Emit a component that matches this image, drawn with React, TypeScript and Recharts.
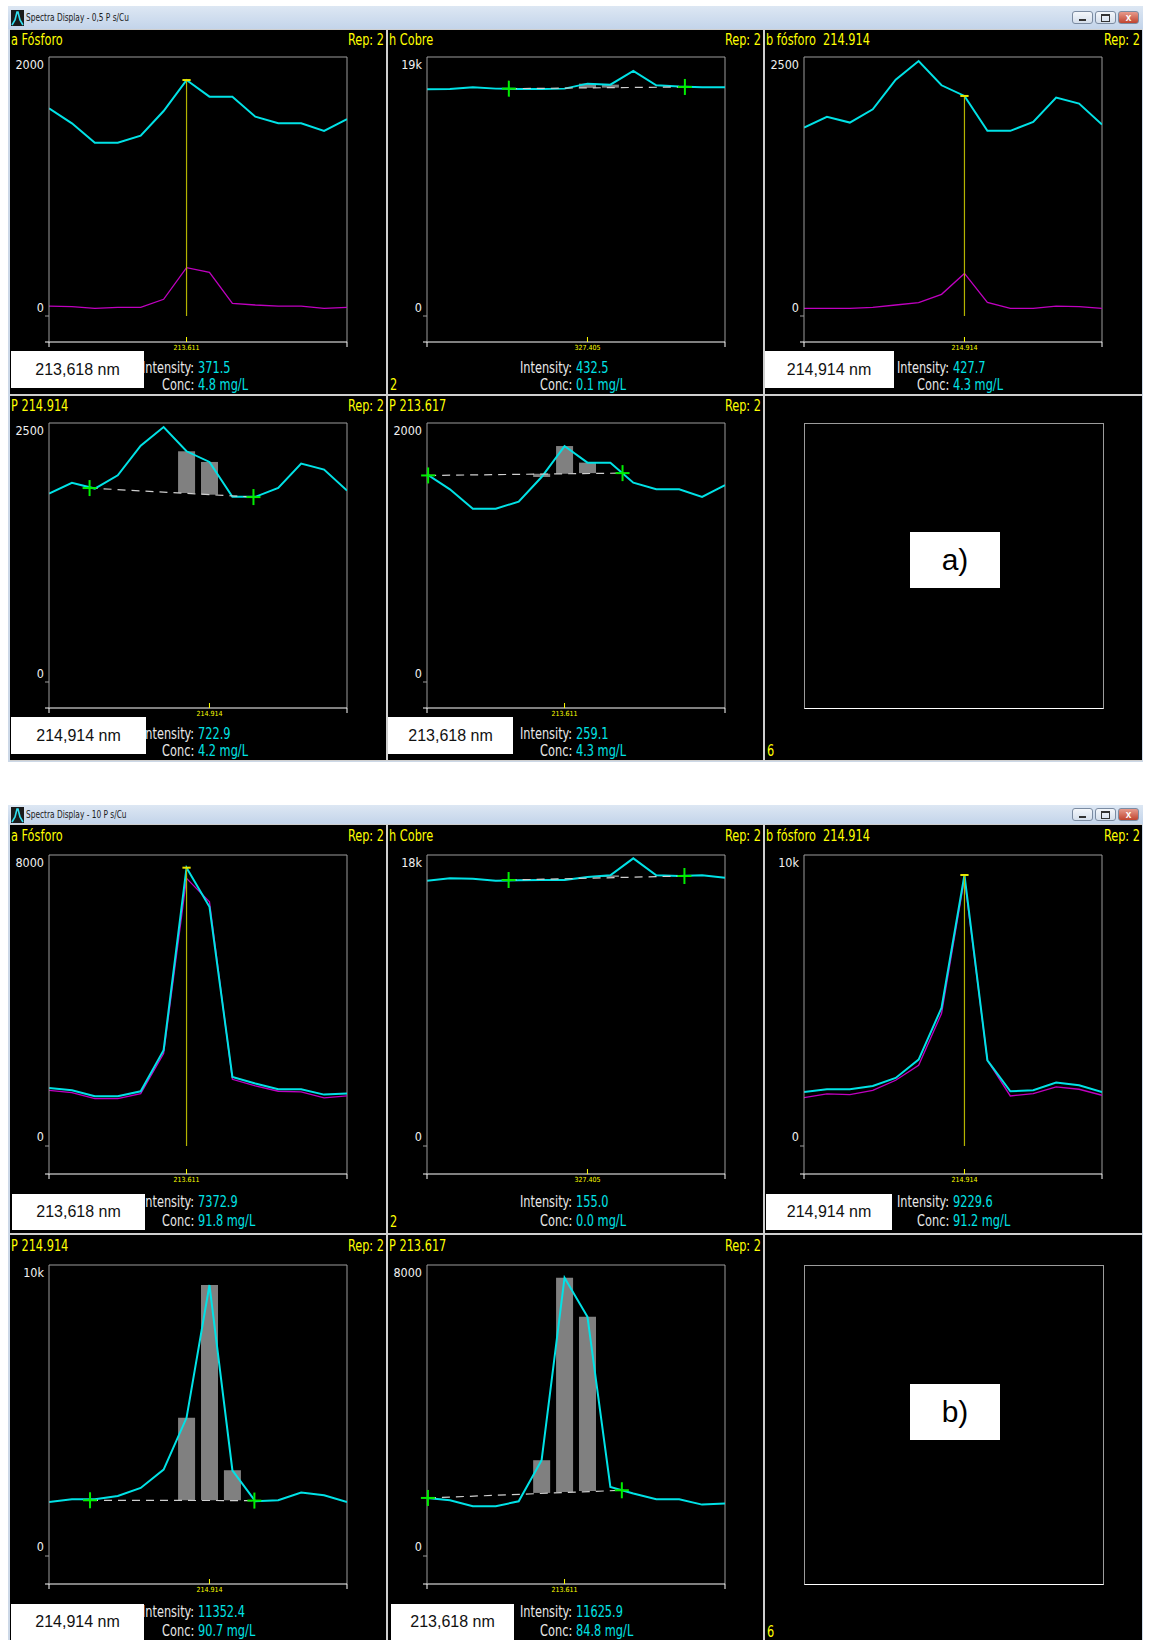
import React from 'react';
import { ComposedChart, Line, Bar, XAxis, YAxis, ReferenceLine, ReferenceDot } from 'recharts';

const NARROW = "'Liberation Sans Narrow', 'Arial Narrow', 'DejaVu Sans Condensed', 'Liberation Sans', sans-serif";
const SANS = "'Liberation Sans', Arial, sans-serif";

const YELLOW = '#ffff00';
const CYAN = '#00e2e6';
const MAGENTA = '#c000c0';
const MARK = '#b4b400';
const GREEN = '#00ee00';
const BOXGRAY = '#9c9c9c';
const SQUEEZE = 0.84;

// 14 read-out points per spectrum
const pointIndex = [0, 1, 2, 3, 4, 5, 6, 7, 8, 9, 10, 11, 12, 13];

// a) 0,5 P s/Cu
const fosforoA_05 = [1604, 1488, 1338, 1338, 1393, 1583, 1822, 1694, 1694, 1539, 1488, 1488, 1429, 1521];
const fosforoA_05ref = [77, 72, 59, 67, 67, 129, 373, 337, 98, 85, 77, 77, 59, 67];
const cobre_05 = [16631, 16656, 16778, 16680, 16656, 16656, 16680, 17046, 16973, 17974, 16924, 16827, 16778, 16778];
const fosforoB_05 = [1819, 1922, 1867, 1995, 2281, 2461, 2227, 2124, 1787, 1787, 1873, 2108, 2050, 1848];
const fosforoB_05ref = [74, 74, 74, 84, 106, 129, 209, 411, 132, 74, 74, 96, 90, 74];

// b) 10 P s/Cu
const fosforoA_10 = [1596, 1532, 1367, 1367, 1505, 2633, 7651, 6578, 1899, 1716, 1560, 1560, 1413, 1440];
const fosforoA_10ref = [1532, 1468, 1303, 1303, 1440, 2541, 7358, 6716, 1835, 1651, 1505, 1486, 1321, 1376];
const cobre_10 = [16411, 16555, 16534, 16411, 16431, 16452, 16452, 16638, 16741, 17794, 16741, 16700, 16741, 16596];
const fosforoB_10 = [1858, 1950, 1950, 2064, 2339, 2970, 4748, 9312, 2947, 1881, 1915, 2179, 2087, 1858];
const fosforoB_10ref = [1663, 1789, 1766, 1915, 2259, 2775, 4553, 9197, 2947, 1720, 1800, 2030, 1950, 1743];

// integration bars: [index, base, top]
const cobreBars_05 = [[7, 16734, 17046], [8, 16750, 16973]];
const p214Bars_05 = [[6, 1824, 2227], [7, 1808, 2124]];
const p213Bars_05 = [[5, 1583, 1608], [6, 1608, 1822], [7, 1613, 1694]];
const cobreBars_10 = [[8, 16640, 16741]];
const p214Bars_10 = [[6, 1915, 4748], [7, 1915, 9312], [8, 1915, 2947]];
const p213Bars_10 = [[5, 1734, 2633], [6, 1761, 7651], [7, 1789, 6578]];

// background correction points: [position, intensity]
const cobreMarks_05 = [[3.57, 16680], [11.25, 16802]];
const p214Marks_05 = [[1.77, 1872], [8.92, 1785]];
const p213Marks_05 = [[0.05, 1595], [8.53, 1613]];
const cobreMarks_10 = [[3.56, 16452], [11.23, 16700]];
const p214Marks_10 = [[1.79, 1915], [8.96, 1904]];
const p213Marks_10 = [[0.04, 1596], [8.5, 1807]];

type Spec = {
  title: string;
  yTop?: number;
  yLabel?: string;
  main?: number[];
  ref?: number[];
  bars?: number[][];
  marks?: number[][];
  peak?: number;
  tickAt?: number;
  tickText?: string;
  nm?: string;
  nmLeft?: number;
  nmWidth?: number;
  intensity?: string;
  conc?: string;
  corner?: string;
  letter?: string;
};

type Geo = {
  rows: number[];
  rowH: number;
  boxTop: number;
  boxH: number;
  zeroOff: number;
  zeroDy: number;
  nmTop: number;
  nmH: number;
  intY: number;
  concY: number;
  headY: number;
  cornerY: number;
  letterTop: number;
};

const geoA: Geo = { rows: [30, 396], rowH: 364, boxTop: 27, boxH: 285, zeroOff: 259, zeroDy: -4, nmTop: 321, nmH: 37, intY: 338, concY: 355, headY: 10, cornerY: 355, letterTop: 136 };
const geoB: Geo = { rows: [825, 1235], rowH: 408, boxTop: 30, boxH: 319, zeroOff: 291, zeroDy: -5, nmTop: 369, nmH: 36, intY: 377, concY: 396, headY: 11, cornerY: 397, letterTop: 149 };

const COLS = [{ left: 10, width: 376 }, { left: 388, width: 375 }, { left: 765, width: 377 }];
const BOX_LEFT = 39;
const BOX_W = 298;

const panelsA: Spec[] = [
  { title: 'a Fósforo', yTop: 2000, yLabel: '2000', main: fosforoA_05, ref: fosforoA_05ref, peak: 6, tickAt: 6, tickText: '213.611', nm: '213,618 nm', nmLeft: 1, nmWidth: 133, intensity: '371.5', conc: '4.8 mg/L' },
  { title: 'h Cobre', yTop: 19000, yLabel: '19k', main: cobre_05, bars: cobreBars_05, marks: cobreMarks_05, tickAt: 7, tickText: '327.405', intensity: '432.5', conc: '0.1 mg/L', corner: '2' },
  { title: 'b fósforo  214.914', yTop: 2500, yLabel: '2500', main: fosforoB_05, ref: fosforoB_05ref, peak: 7, tickAt: 7, tickText: '214.914', nm: '214,914 nm', nmLeft: -1, nmWidth: 130, intensity: '427.7', conc: '4.3 mg/L' },
  { title: 'P 214.914', yTop: 2500, yLabel: '2500', main: fosforoB_05, bars: p214Bars_05, marks: p214Marks_05, tickAt: 7, tickText: '214.914', nm: '214,914 nm', nmLeft: 1, nmWidth: 135, intensity: '722.9', conc: '4.2 mg/L' },
  { title: 'P 213.617', yTop: 2000, yLabel: '2000', main: fosforoA_05, bars: p213Bars_05, marks: p213Marks_05, tickAt: 6, tickText: '213.611', nm: '213,618 nm', nmLeft: 0, nmWidth: 125, intensity: '259.1', conc: '4.3 mg/L' },
  { title: '', letter: 'a)', corner: '6' },
];

const panelsB: Spec[] = [
  { title: 'a Fósforo', yTop: 8000, yLabel: '8000', main: fosforoA_10, ref: fosforoA_10ref, peak: 6, tickAt: 6, tickText: '213.611', nm: '213,618 nm', nmLeft: 2, nmWidth: 133, intensity: '7372.9', conc: '91.8 mg/L' },
  { title: 'h Cobre', yTop: 18000, yLabel: '18k', main: cobre_10, bars: cobreBars_10, marks: cobreMarks_10, tickAt: 7, tickText: '327.405', intensity: '155.0', conc: '0.0 mg/L', corner: '2' },
  { title: 'b fósforo  214.914', yTop: 10000, yLabel: '10k', main: fosforoB_10, ref: fosforoB_10ref, peak: 7, tickAt: 7, tickText: '214.914', nm: '214,914 nm', nmLeft: 1, nmWidth: 126, intensity: '9229.6', conc: '91.2 mg/L' },
  { title: 'P 214.914', yTop: 10000, yLabel: '10k', main: fosforoB_10, bars: p214Bars_10, marks: p214Marks_10, tickAt: 7, tickText: '214.914', nm: '214,914 nm', nmLeft: 1, nmWidth: 133, intensity: '11352.4', conc: '90.7 mg/L' },
  { title: 'P 213.617', yTop: 8000, yLabel: '8000', main: fosforoA_10, bars: p213Bars_10, marks: p213Marks_10, tickAt: 6, tickText: '213.611', nm: '213,618 nm', nmLeft: 3, nmWidth: 123, intensity: '11625.9', conc: '84.8 mg/L' },
  { title: '', letter: 'b)', corner: '6' },
];

const crossShape = (p: any) => (
  <g>
    <line x1={p.cx - 7} x2={p.cx + 7} y1={p.cy} y2={p.cy} stroke={GREEN} strokeWidth={2} />
    <line x1={p.cx} x2={p.cx} y1={p.cy - 8} y2={p.cy + 8} stroke={GREEN} strokeWidth={2} />
  </g>
);

function Plot({ spec, geo }: { spec: Spec; geo: Geo }) {
  const yTop = spec.yTop as number;
  const main = spec.main as number[];
  const yMin = (-yTop * (geo.boxH - geo.zeroOff)) / geo.zeroOff;
  const rows = pointIndex.map((i) => {
    const b = spec.bars ? spec.bars.find((r) => r[0] === i) : undefined;
    return { x: i, main: main[i], ref: spec.ref ? spec.ref[i] : undefined, bar: b ? [b[1], b[2]] : undefined };
  });

  const xTick = (props: any) => {
    const { x, y, payload } = props;
    const v = payload.value;
    return (
      <g>
        {v === 0 && <line x1={x - 4} x2={x} y1={y} y2={y} stroke="#ffffff" />}
        {(v === 0 || v === 13) && <line x1={x} x2={x} y1={y} y2={y + 5} stroke="#ffffff" />}
        {v === spec.tickAt && (
          <g>
            <line x1={x} x2={x} y1={y - 5} y2={y} stroke={YELLOW} />
            <text x={x} y={y + 8} textAnchor="middle" fontSize={7} fontFamily={NARROW} fill={YELLOW}>
              {spec.tickText}
            </text>
          </g>
        )}
      </g>
    );
  };

  const yTick = (props: any) => {
    const { x, y, payload } = props;
    const isTop = payload.value === yTop;
    return (
      <g>
        {!isTop && <line x1={x - 4} x2={x} y1={y} y2={y} stroke={BOXGRAY} />}
        <text x={x - 5} y={isTop ? y + 12 : y + geo.zeroDy} textAnchor="end" fontSize={12.5} fontFamily={NARROW} fill="#f0f0f0">
          {isTop ? spec.yLabel : '0'}
        </text>
      </g>
    );
  };

  const pk = spec.peak;
  const m = spec.marks;

  return (
    <ComposedChart width={BOX_LEFT + BOX_W + 3} height={geo.boxH + 20} data={rows} margin={{ top: 2, right: 3, bottom: 0, left: 0 }}>
      <XAxis dataKey="x" type="number" domain={[0, 13]} ticks={pointIndex} interval={0} allowDataOverflow axisLine={{ stroke: '#ffffff' }} tickLine={false} tickSize={0} tickMargin={0} height={18} tick={xTick} />
      <YAxis type="number" domain={[yMin, yTop]} ticks={[0, yTop]} interval={0} allowDataOverflow axisLine={{ stroke: BOXGRAY }} tickLine={false} tickSize={0} tickMargin={0} width={BOX_LEFT} tick={yTick} />
      <ReferenceLine y={yTop} stroke={BOXGRAY} />
      <ReferenceLine x={13} stroke={BOXGRAY} />
      {spec.bars && <Bar dataKey="bar" fill="#808080" barSize={17} isAnimationActive={false} />}
      {spec.ref && <Line dataKey="ref" type="linear" stroke={MAGENTA} strokeWidth={1.3} dot={false} isAnimationActive={false} />}
      <Line dataKey="main" type="linear" stroke={CYAN} strokeWidth={2} dot={false} isAnimationActive={false} />
      {pk !== undefined && (
        <ReferenceLine segment={[{ x: pk, y: 0 }, { x: pk, y: main[pk] }]} stroke={MARK} strokeWidth={1.2} />
      )}
      {pk !== undefined && (
        <ReferenceLine segment={[{ x: pk - 0.18, y: main[pk] }, { x: pk + 0.18, y: main[pk] }]} stroke="#e6e600" strokeWidth={2} />
      )}
      {m && (
        <ReferenceLine segment={[{ x: m[0][0], y: m[0][1] }, { x: m[1][0], y: m[1][1] }]} stroke="#cfcfcf" strokeDasharray="8 6" strokeWidth={1.2} />
      )}
      {m && m.map((p, i) => <ReferenceDot key={i} x={p[0]} y={p[1]} ifOverflow="hidden" shape={crossShape} />)}
    </ComposedChart>
  );
}

// condensed text: the narrow face is not installed, so squeeze horizontally
function Txt({ left, right, y, color, children, size = 15 }: { left?: number; right?: number; y: number; color: string; children: React.ReactNode; size?: number }) {
  const lh = 16;
  return (
    <div
      style={{
        position: 'absolute',
        left,
        right,
        top: y - lh / 2,
        lineHeight: `${lh}px`,
        fontSize: size,
        color,
        whiteSpace: 'pre',
        transform: `scaleX(${SQUEEZE})`,
        transformOrigin: right !== undefined ? 'right center' : 'left center',
      }}
    >
      {children}
    </div>
  );
}

function Panel({ spec, geo, col, row }: { spec: Spec; geo: Geo; col: number; row: number }) {
  const c = COLS[col];
  const top = geo.rows[row];
  return (
    <div style={{ position: 'absolute', left: c.left, top, width: c.width, height: geo.rowH, background: '#000', overflow: 'hidden', fontFamily: NARROW }}>
      {spec.title && <Txt left={1} y={geo.headY} color={YELLOW}>{spec.title}</Txt>}
      {spec.title && <Txt right={2} y={geo.headY} color={YELLOW}>Rep: 2</Txt>}
      {spec.main ? (
        <div style={{ position: 'absolute', left: 0, top: geo.boxTop - 2 }}>
          <Plot spec={spec} geo={geo} />
        </div>
      ) : (
        <div style={{ position: 'absolute', left: BOX_LEFT, top: geo.boxTop, width: BOX_W, height: geo.boxH - 1, borderTop: `1px solid ${BOXGRAY}`, borderLeft: `1px solid ${BOXGRAY}`, borderRight: `1px solid ${BOXGRAY}`, borderBottom: '1px solid #ffffff' }} />
      )}
      {spec.letter && (
        <div style={{ position: 'absolute', left: 145, top: geo.letterTop, width: 90, height: 56, background: '#fff', color: '#000', fontFamily: SANS, fontSize: 30, lineHeight: '56px', textAlign: 'center' }}>
          {spec.letter}
        </div>
      )}
      {spec.intensity && (
        <>
          <Txt right={c.width - 184} y={geo.intY} color="#e8e8e8">Intensity:</Txt>
          <Txt left={188} y={geo.intY} color={CYAN}>{spec.intensity}</Txt>
          <Txt right={c.width - 184} y={geo.concY} color="#e8e8e8">Conc:</Txt>
          <Txt left={188} y={geo.concY} color={CYAN}>{spec.conc}</Txt>
        </>
      )}
      {spec.nm && (
        <div style={{ position: 'absolute', left: spec.nmLeft, top: geo.nmTop, width: spec.nmWidth, height: geo.nmH, background: '#fff', color: '#111', fontFamily: SANS, fontSize: 16, lineHeight: `${geo.nmH}px`, textAlign: 'center' }}>
          {spec.nm}
        </div>
      )}
      {spec.corner && <Txt left={2} y={geo.cornerY} color={YELLOW}>{spec.corner}</Txt>}
    </div>
  );
}

function TitleBar({ top, h, title }: { top: number; h: number; title: string }) {
  const by = top + Math.round((h - 13) / 2);
  const btn = (left: number, bg: string, glyph: React.ReactNode) => (
    <div style={{ position: 'absolute', left, top: by, width: 21, height: 13, borderRadius: 3, border: '1px solid #7b8ba1', background: bg, boxSizing: 'border-box', display: 'flex', alignItems: 'center', justifyContent: 'center' }}>{glyph}</div>
  );
  return (
    <>
      <div style={{ position: 'absolute', left: 8, top, width: 1135, height: h, background: 'linear-gradient(#dde7f3, #c3d4ea)' }} />
      <svg style={{ position: 'absolute', left: 11, top: top + (h - 16) / 2 }} width={13} height={16}>
        <rect x={0} y={0} width={13} height={16} fill="#1a1a1a" />
        <polyline points="1,15 4,10 6,2 7,2 9,10 12,15" fill="none" stroke="#33e0f0" strokeWidth={1.6} />
      </svg>
      <div style={{ position: 'absolute', left: 26, top, height: h, lineHeight: `${h}px`, fontFamily: NARROW, fontSize: 11, color: '#1b1b1b', whiteSpace: 'pre', transform: 'scaleX(0.75)', transformOrigin: 'left center' }}>{title}</div>
      {btn(1072, 'linear-gradient(#f4f7fb, #d5dfec)', <div style={{ width: 7, height: 2, background: '#333', marginTop: 5 }} />)}
      {btn(1095, 'linear-gradient(#f4f7fb, #d5dfec)', <div style={{ width: 7, height: 5, border: '1px solid #333', borderTopWidth: 2 }} />)}
      {btn(1118, 'linear-gradient(#e79a8c, #c0442f)', <span style={{ color: '#fff', fontFamily: SANS, fontSize: 10, fontWeight: 700 }}>x</span>)}
    </>
  );
}

function SpectraWindow({ top, height, titleH, title, geo, panels }: { top: number; height: number; titleH: number; title: string; geo: Geo; panels: Spec[] }) {
  return (
    <>
      <div style={{ position: 'absolute', left: 8, top, width: 1135, height, background: '#ccd8e7' }} />
      <div style={{ position: 'absolute', left: 10, top: top + titleH, width: 1132, height: height - titleH - 1, background: '#cfcfcf' }} />
      <TitleBar top={top} h={titleH} title={title} />
      {panels.map((p, i) => (
        <Panel key={i} spec={p} geo={geo} col={i % 3} row={Math.floor(i / 3)} />
      ))}
    </>
  );
}

export default function App() {
  return (
    <div style={{ position: 'relative', width: 1150, height: 1640, background: '#ffffff', overflow: 'hidden' }}>
      <style>{'body{margin:0}'}</style>
      <SpectraWindow top={6} height={756} titleH={23} title="Spectra Display - 0,5 P s/Cu" geo={geoA} panels={panelsA} />
      <SpectraWindow top={805} height={845} titleH={19} title="Spectra Display - 10 P s/Cu" geo={geoB} panels={panelsB} />
    </div>
  );
}
